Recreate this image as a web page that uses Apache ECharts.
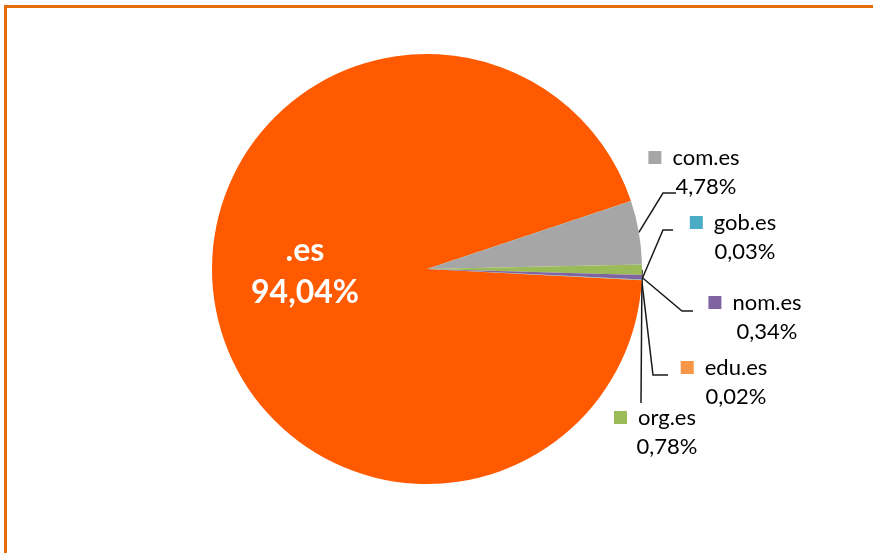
<!DOCTYPE html>
<html>
<head>
<meta charset="utf-8">
<script src="https://cdn.jsdelivr.net/npm/echarts@6/dist/echarts.min.js"></script>
<style>
  html, body { margin: 0; padding: 0; background: #fff; }
  #chart { position: absolute; left: 0; top: 0; width: 873px; height: 553px; }
  #frame { position: absolute; left: 4px; top: 5px; width: 880px; height: 560px;
           border-top: 3px solid #E46C0A; border-left: 3px solid #E46C0A; pointer-events: none; }
</style>
</head>
<body>
<div id="chart"></div>
<div id="frame"></div>
<script>
// ---- data ----
const categories = ['.es', 'com.es', 'org.es', 'nom.es', 'gob.es', 'edu.es'];
const values     = [94.04, 4.78, 0.78, 0.34, 0.03, 0.02];
const colors     = ['#FF5A00', '#A6A6A6', '#9BBB59', '#8064A2', '#4BACC6', '#F79646'];

// ---- label layout (positions of the label blocks and leader-line bends) ----
const labelAnchor = [[305, 272], [706, 172], [667, 432], [767, 317], [745, 237], [736, 382]];
const lineBends = [
  null,
  [[663, 193], [676, 193]],
  [[641, 403], [641, 403]],
  [[682, 311], [693, 311]],
  [[663, 230], [673, 230]],
  [[653, 375], [668, 375]]
];

const FONT = 'Lato, "Open Sans", sans-serif';
function pct(v) { return v.toFixed(2).replace('.', ',') + '%'; }

const data = categories.map((name, i) => {
  const item = { name: name, value: values[i], itemStyle: { color: colors[i] } };
  if (i === 0) {
    item.label = {
      position: 'inside',
      formatter: '{b|' + name + '}\n{b|' + pct(values[i]) + '}',
      rich: {
        b: { color: '#fff', fontSize: 32, fontWeight: 'bold', fontFamily: FONT, lineHeight: 42, align: 'center' }
      }
    };
    item.labelLine = { show: false };
  } else {
    item.label = {
      position: 'outside',
      formatter: '{sq| }{gap| }{n|' + name + '}{sp| }\n{n|' + pct(values[i]) + '}',
      rich: {
        sq: { width: 13, height: 13, backgroundColor: colors[i], lineHeight: 29, align: 'center', verticalAlign: 'middle' },
        gap: { width: 11, lineHeight: 29, align: 'center' },
        sp: { width: 24, lineHeight: 29, align: 'center' },
        n: { color: '#000', fontSize: 22, fontFamily: FONT, lineHeight: 29, align: 'center', verticalAlign: 'middle' }
      }
    };
  }
  return item;
});

const chart = echarts.init(document.getElementById('chart'), null, { renderer: 'canvas' });
chart.setOption({
  animation: false,
  backgroundColor: '#ffffff',
  series: [{
    type: 'pie',
    center: [427, 269],
    radius: 215,
    startAngle: -3,
    clockwise: true,
    avoidLabelOverlap: false,
    itemStyle: { borderWidth: 0 },
    label: { show: true, fontFamily: FONT },
    labelLine: { show: true, length: 10, length2: 10, smooth: false, lineStyle: { color: '#1a1a1a', width: 1.5 } },
    emphasis: { disabled: true },
    data: data,
    labelLayout: function (params) {
      const i = params.dataIndex;
      const a = labelAnchor[i];
      const out = { x: a[0], y: a[1], align: 'center', verticalAlign: 'middle' };
      if (lineBends[i] && params.labelLinePoints && params.labelLinePoints.length) {
        out.labelLinePoints = [params.labelLinePoints[0]].concat(lineBends[i]);
      }
      return out;
    }
  }]
});
</script>
</body>
</html>
